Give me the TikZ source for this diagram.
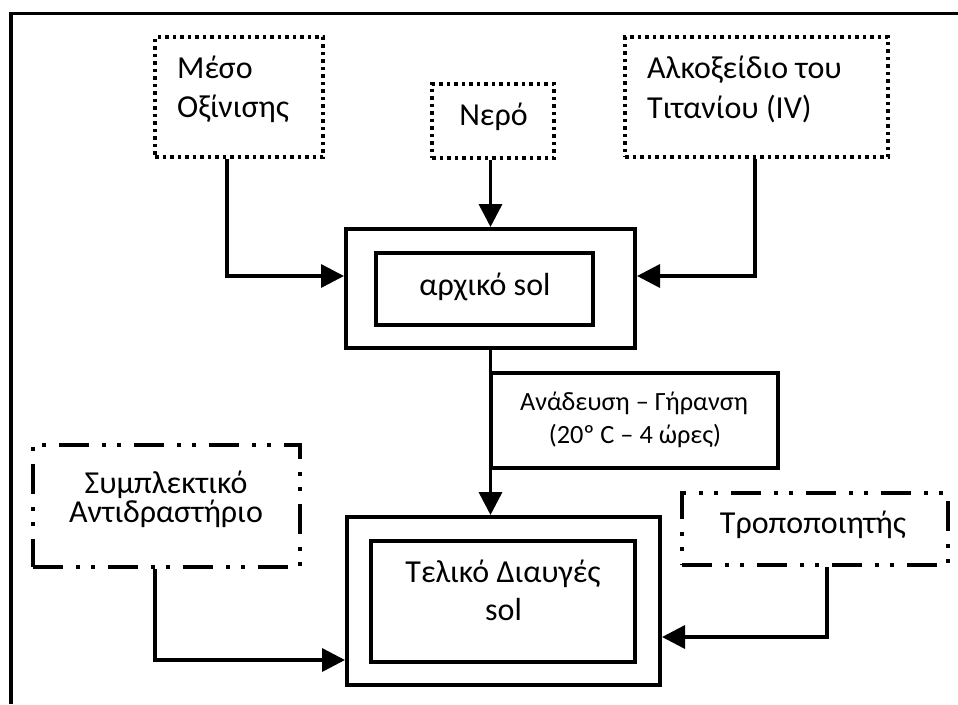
\documentclass[tikz,border=0pt]{standalone}
\usepackage{fontspec}
\setmainfont{Carlito}
\usetikzlibrary{arrows.meta}
\tikzset{
  bigtxt/.style={inner sep=0pt, font=\fontsize{32}{39}\selectfont},
  smalltxt/.style={inner sep=0pt, font=\fontsize{26.3}{33}\selectfont},
  solidbox/.style={draw, line width=4pt, rectangle, inner sep=0pt},
  dotbox/.style={draw, line width=3.5pt, rectangle, inner sep=0pt, dash pattern=on 3.5pt off 4pt},
  dashdotbox/.style={draw, line width=3.5pt, rectangle, inner sep=0pt, dash pattern=on 30pt off 13pt on 4pt off 11pt on 4pt off 13pt},
  arrowconn/.style={line width=3.5pt, -{Triangle[length=23pt,width=23pt]}},
}
\begin{document}
\begin{tikzpicture}[x=1pt,y=-1pt]
\useasboundingbox (0,0) rectangle (958,704);
% outer frame (top and left sides only)
\draw[line width=3.5pt] (958,13.5) -- (11,13.5) -- (11,704);

% input boxes
\node[dotbox, minimum width=168pt, minimum height=120pt] (meso) at (239,97) {};
\node[bigtxt, anchor=base west] (mesoA) at (177,78) {Μέσο};
\node[bigtxt, anchor=base west] (mesoB) at (177,117) {Οξίνισης};

\node[dotbox, minimum width=122pt, minimum height=74pt] (nero) at (493,121) {};
\node[bigtxt, anchor=base] (neroT) at (493.5,125) {Νερό};

\node[dotbox, minimum width=263pt, minimum height=120pt] (alko) at (756.5,97) {};
\node[bigtxt, anchor=base west] (alkoA) at (647,78) {Αλκοξείδιο του};
\node[bigtxt, anchor=base west] (alkoB) at (647,118) {Τιτανίου (IV)};

% initial sol
\node[solidbox, minimum width=289pt, minimum height=119pt] (aOut) at (490.5,288.5) {};
\node[solidbox, minimum width=217pt, minimum height=72pt] (aIn) at (484.5,289) {};
\node[bigtxt, anchor=base] (aT) at (485,295) {αρχικό sol};

% process label
\node[solidbox, minimum width=287pt, minimum height=95pt] (proc) at (634.5,420.5) {};
\node[smalltxt, anchor=base] (procA) at (634,410) {Ανάδευση – Γήρανση};
\node[smalltxt, anchor=base] (procB) at (635,443) {(20º C – 4 ώρες)};

% side inputs
\node[dashdotbox, minimum width=267pt, minimum height=122pt] (symp) at (166.5,506) {};
\node[bigtxt, anchor=base] (sympA) at (166,493) {Συμπλεκτικό};
\node[bigtxt, anchor=base] (sympB) at (166,522) {Αντιδραστήριο};

\node[dashdotbox, minimum width=266pt, minimum height=72pt] (trop) at (815,529) {};
\node[bigtxt, anchor=base] (tropT) at (813,533) {Τροποποιητής};

% final sol
\node[solidbox, minimum width=313pt, minimum height=168pt] (tOut) at (503.5,601) {};
\node[solidbox, minimum width=264pt, minimum height=121pt] (tIn) at (503,601.5) {};
\node[bigtxt, anchor=base] (tA) at (503,582) {Τελικό Διαυγές};
\node[bigtxt, anchor=base] (tB) at (503.5,620) {sol};

% junction coordinates
\coordinate (j1) at (227,276);
\coordinate (j2) at (755,276);
\coordinate (j3) at (155,660);
\coordinate (j4) at (827,637);

% connectors
\draw[arrowconn] (meso.south -| j1) -- (j1) -- (aOut.west |- j1);
\draw[arrowconn] (alko.south -| j2) -- (j2) -- (aOut.east |- j2);
\draw[arrowconn] (nero.south -| aOut.north) -- (aOut.north);
\draw[arrowconn] (aOut.south) -- (aOut.south |- tOut.north);
\draw[arrowconn] (symp.south -| j3) -- (j3) -- (tOut.west |- j3);
\draw[arrowconn] (trop.south -| j4) -- (j4) -- (tOut.east |- j4);
\end{tikzpicture}
\end{document}
